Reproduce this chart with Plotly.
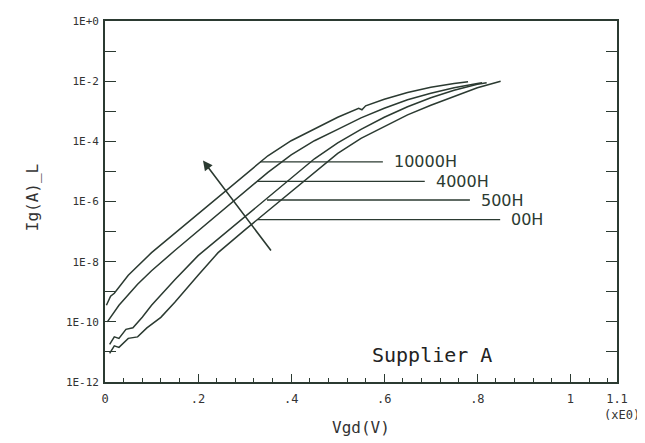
import plotly.graph_objects as go

# ---- data ----
v_10000 = [0.003, 0.012, 0.02, 0.05, 0.10, 0.15, 0.20, 0.25, 0.30, 0.35, 0.40, 0.45, 0.50, 0.545, 0.552, 0.56, 0.60, 0.65, 0.70, 0.75, 0.78]
log_10000 = [-9.45, -9.15, -9.05, -8.45, -7.7, -7.05, -6.4, -5.75, -5.1, -4.48, -3.98, -3.6, -3.2, -2.9, -2.95, -2.82, -2.6, -2.38, -2.2, -2.08, -2.02]

v_4000 = [0.005, 0.03, 0.07, 0.10, 0.15, 0.20, 0.25, 0.30, 0.35, 0.40, 0.45, 0.50, 0.55, 0.60, 0.65, 0.70, 0.75, 0.80, 0.81]
log_4000 = [-10.0, -9.45, -8.75, -8.3, -7.63, -6.98, -6.33, -5.68, -5.03, -4.45, -3.98, -3.6, -3.22, -2.9, -2.62, -2.4, -2.22, -2.08, -2.05]

v_500 = [0.01, 0.02, 0.03, 0.045, 0.06, 0.08, 0.10, 0.15, 0.20, 0.25, 0.30, 0.35, 0.40, 0.45, 0.50, 0.55, 0.60, 0.65, 0.70, 0.75, 0.80, 0.82]
log_500 = [-10.75, -10.5, -10.55, -10.25, -10.2, -9.85, -9.45, -8.6, -7.8, -7.15, -6.5, -5.85, -5.2, -4.58, -4.05, -3.6, -3.2, -2.85, -2.55, -2.3, -2.1, -2.05]

v_00 = [0.01, 0.02, 0.03, 0.05, 0.07, 0.09, 0.12, 0.15, 0.20, 0.243, 0.30, 0.343, 0.40, 0.45, 0.50, 0.55, 0.60, 0.65, 0.70, 0.75, 0.80, 0.85]
log_00 = [-11.05, -10.8, -10.85, -10.55, -10.5, -10.2, -9.85, -9.35, -8.45, -7.7, -6.95, -6.4, -5.65, -5.02, -4.4, -3.9, -3.5, -3.12, -2.8, -2.5, -2.22, -2.0]

series = [
    ("10000H", v_10000, log_10000),
    ("4000H", v_4000, log_4000),
    ("500H", v_500, log_500),
    ("00H", v_00, log_00),
]

# leader lines for the labels: level (log10 A), start V, end V
label_names = ["10000H", "4000H", "500H", "00H"]
label_level = [-4.68, -5.33, -5.95, -6.6]
label_x0 = [0.333, 0.327, 0.348, 0.327]
label_x1 = [0.597, 0.687, 0.784, 0.849]

# arrow (tail -> head), in V and log10 A
arrow_tail = (0.359, -7.68)
arrow_head = (0.2105, -4.64)

y_decades = list(range(-12, 1))
y_ticktext = [("1E+0" if d == 0 else f"1E{d}") if d % 2 == 0 else "" for d in y_decades]
x_tickvals = [0, 0.2, 0.4, 0.6, 0.8, 1.0, 1.1]
x_ticktext = ["0", ".2", ".4", ".6", ".8", "1", "1.1"]

INK = "#2b3a31"
TXT = "#333333"
mono = "DejaVu Sans Mono"

fig = go.Figure()
for name, vs, ls in series:
    fig.add_trace(go.Scatter(x=vs, y=[10 ** l for l in ls], mode="lines",
                             line=dict(color=INK, width=1.5), name=name,
                             showlegend=False, hoverinfo="skip"))

for name, lv, x0, x1 in zip(label_names, label_level, label_x0, label_x1):
    fig.add_trace(go.Scatter(x=[x0, x1], y=[10 ** lv, 10 ** lv], mode="lines",
                             line=dict(color=INK, width=1.3), showlegend=False,
                             hoverinfo="skip"))
    fig.add_annotation(x=x1 + 0.02, y=lv, xref="x", yref="y", text=name,
                       showarrow=False, xanchor="left", yanchor="middle",
                       font=dict(family="DejaVu Sans", size=16, color=INK))

fig.add_annotation(x=arrow_head[0], y=arrow_head[1], ax=arrow_tail[0], ay=arrow_tail[1],
                   xref="x", yref="y", axref="x", ayref="y", text="",
                   showarrow=True, arrowhead=2, arrowsize=1.2, arrowwidth=1.6,
                   arrowcolor=INK)

fig.add_annotation(x=0.569, y=0.0736, xref="x", yref="paper", text="Supplier A",
                   showarrow=False, xanchor="left", yanchor="middle",
                   font=dict(family=mono, size=20, color="#222"))

fig.add_annotation(x=0.5, y=-0.125, xref="paper", yref="paper", text="Vgd(V)",
                   showarrow=False, xanchor="center", yanchor="middle",
                   font=dict(family=mono, size=16, color=TXT))
fig.add_annotation(x=1.01, y=-0.092, xref="paper", yref="paper", text="(xE0)",
                   showarrow=False, xanchor="center", yanchor="middle",
                   font=dict(family=mono, size=12, color=TXT))
fig.add_annotation(x=-0.14, y=0.51, xref="paper", yref="paper", text="Ig(A)_L",
                   showarrow=False, textangle=-90, xanchor="center", yanchor="middle",
                   font=dict(family=mono, size=16, color=TXT))

fig.update_xaxes(range=[0, 1.1], tickvals=x_tickvals, ticktext=x_ticktext,
                 ticks="inside", ticklen=8, tickcolor=INK, tickwidth=1.2,
                 ticklabelstandoff=5,
                 minor=dict(dtick=0.04, tick0=0, ticks="inside", ticklen=4,
                            tickcolor=INK, showgrid=False),
                 showline=True, linecolor=INK, linewidth=1.6, mirror=True,
                 showgrid=False, zeroline=False,
                 tickfont=dict(family=mono, size=12, color=TXT))
fig.update_yaxes(type="log", range=[-12, 0],
                 tickvals=[10 ** d for d in y_decades], ticktext=y_ticktext,
                 ticks="inside", ticklen=11, tickcolor=INK, tickwidth=1.2,
                 ticklabelstandoff=2,
                 showline=True, linecolor=INK, linewidth=1.6, mirror="ticks",
                 showgrid=False, zeroline=False,
                 tickfont=dict(family=mono, size=11, color=TXT))

# page body has an 8px default margin, so the figure is made 8px smaller
fig.update_layout(width=637, height=435, margin=dict(l=97, r=28, t=7, b=61),
                  paper_bgcolor="white", plot_bgcolor="white")

fig.write_html("out.html")
